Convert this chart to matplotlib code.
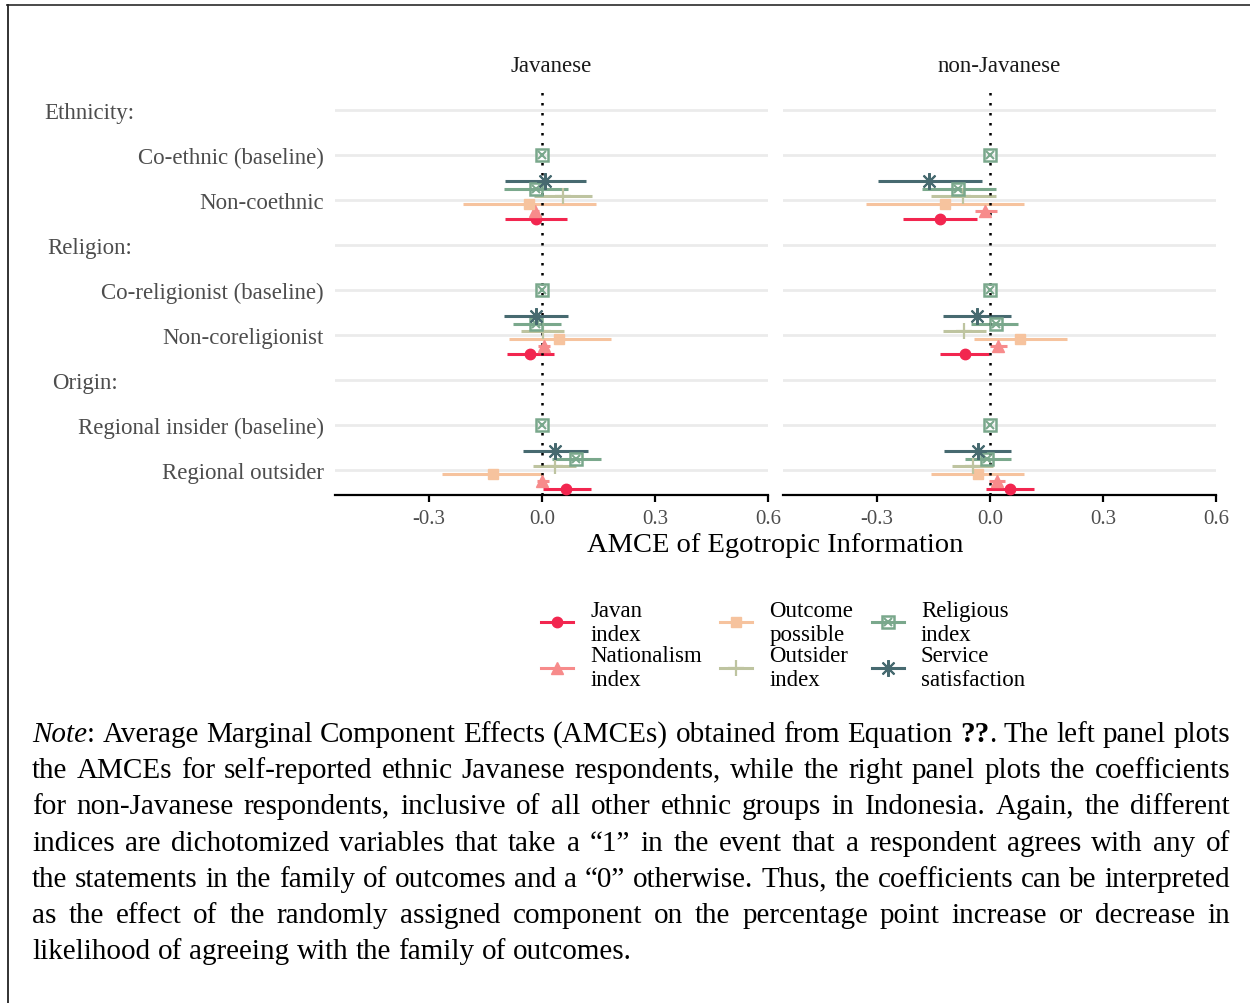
import re

import matplotlib
matplotlib.use("Agg")
import matplotlib.pyplot as plt
import matplotlib.transforms as mtransforms
from matplotlib.lines import Line2D

W, H = 1250, 1004
SERIF = ["Liberation Serif", "DejaVu Serif"]

PANELS = ["Javanese", "non-Javanese"]
SERIES = ["Javan index", "Nationalism index", "Outcome possible",
          "Outsider index", "Religious index", "Service satisfaction"]
LEGEND_LABELS = ["Javan\nindex", "Nationalism\nindex", "Outcome\npossible",
                 "Outsider\nindex", "Religious\nindex", "Service\nsatisfaction"]
COLORS = ["#F2264F", "#F78B8B", "#F6C39E", "#BEC4A0", "#7AA88C", "#476A70"]

ROW_LABELS = ["Ethnicity:", "Co-ethnic (baseline)", "Non-coethnic",
              "Religion:", "Co-religionist (baseline)", "Non-coreligionist",
              "Origin:", "Regional insider (baseline)", "Regional outsider"]
HEADER_ROWS = [0, 3, 6]
BASELINE_ROWS = [1, 4, 7]
EFFECT_ROWS = [2, 5, 8]
HEADER_X = [44, 47, 52]

# one row per series; columns: Non-coethnic, Non-coreligionist, Regional outsider
jav_est = [
    [-0.016, -0.032, 0.064],
    [-0.018, 0.004, 0.000],
    [-0.034, 0.046, -0.131],
    [0.055, 0.002, 0.033],
    [-0.016, -0.016, 0.089],
    [0.008, -0.016, 0.035],
]
jav_lo = [
    [-0.098, -0.092, 0.003],
    [-0.028, -0.012, -0.014],
    [-0.209, -0.088, -0.266],
    [-0.021, -0.057, -0.025],
    [-0.100, -0.078, 0.026],
    [-0.098, -0.101, -0.050],
]
jav_hi = [
    [0.066, 0.032, 0.129],
    [-0.008, 0.021, 0.019],
    [0.143, 0.182, 0.002],
    [0.132, 0.057, 0.090],
    [0.069, 0.050, 0.156],
    [0.117, 0.070, 0.123],
]
nonjav_est = [
    [-0.133, -0.066, 0.052],
    [-0.013, 0.020, 0.018],
    [-0.120, 0.080, -0.033],
    [-0.071, -0.068, -0.046],
    [-0.084, 0.016, -0.007],
    [-0.162, -0.034, -0.033],
]
nonjav_lo = [
    [-0.231, -0.132, -0.011],
    [-0.040, 0.000, -0.004],
    [-0.329, -0.043, -0.156],
    [-0.156, -0.124, -0.102],
    [-0.180, -0.051, -0.067],
    [-0.298, -0.124, -0.123],
]
nonjav_hi = [
    [-0.036, -0.002, 0.116],
    [0.018, 0.046, 0.040],
    [0.089, 0.204, 0.091],
    [0.015, -0.012, 0.009],
    [0.016, 0.074, 0.056],
    [-0.021, 0.056, 0.056],
]
BASELINE_EST = [0.0, 0.0, 0.0]

X_TICKS = [-0.3, 0.0, 0.3, 0.6]
X_TICK_LABELS = ["-0.3", "0.0", "0.3", "0.6"]

NOTE_LINES = [
    "*Note*: Average Marginal Component Effects (AMCEs) obtained from Equation **??**. The left panel plots",
    "the AMCEs for self-reported ethnic Javanese respondents, while the right panel plots the coefficients",
    "for non-Javanese respondents, inclusive of all other ethnic groups in Indonesia. Again, the different",
    "indices are dichotomized variables that take a \u201c1\u201d in the event that a respondent agrees with any of",
    "the statements in the family of outcomes and a \u201c0\u201d otherwise. Thus, the coefficients can be interpreted",
    "as the effect of the randomly assigned component on the percentage point increase or decrease in",
    "likelihood of agreeing with the family of outcomes.",
]

# series drawn bottom (Javan) to top (Service) inside each row
DODGE = [2.5 / 6, 1.5 / 6, 0.5 / 6, -0.5 / 6, -1.5 / 6, -2.5 / 6]

MARKERS = [
    dict(marker="o", ms=7.5),
    dict(marker="^", ms=8.5),
    dict(marker="s", ms=7.5),
    dict(marker="+", ms=12, mew=1.6),
    None,
    dict(marker=(8, 2, 0), ms=12, mew=1.5),
]


def draw_points(ax, x, y, i):
    c = COLORS[i]
    if MARKERS[i] is None:
        ax.plot(x, y, ls="none", marker="s", ms=8, mfc="none", mec=c, mew=1.8, zorder=4)
        ax.plot(x, y, ls="none", marker="x", ms=6, mec=c, mew=1.5, zorder=4)
    else:
        ax.plot(x, y, ls="none", color=c, mec=c, zorder=4, **MARKERS[i])


def legend_handle(i):
    c = COLORS[i]
    if MARKERS[i] is None:
        a = Line2D([], [], color=c, lw=2.2, marker="s", ms=8, mfc="none", mec=c, mew=1.8)
        b = Line2D([], [], ls="none", marker="x", ms=6, mec=c, mew=1.5)
        return (a, b)
    return Line2D([], [], color=c, lw=2.2, mec=c, **MARKERS[i])


def draw_panel(ax, title, est, lo, hi):
    for r in range(len(ROW_LABELS)):
        ax.axhline(r, color="#EBEBEB", lw=2, zorder=0)
    ax.axvline(0, color="black", lw=1.8, ls=(0, (1, 3)), zorder=3)
    for i in range(len(SERIES)):
        ys = [r + DODGE[i] for r in EFFECT_ROWS]
        ax.hlines(ys, lo[i], hi[i], color=COLORS[i], lw=2.2, zorder=2)
        draw_points(ax, est[i], ys, i)
    draw_points(ax, BASELINE_EST, BASELINE_ROWS, 4)

    ax.set_xlim(-0.55, 0.6)
    ax.set_ylim(8.556, -0.533)
    ax.set_xticks(X_TICKS)
    ax.set_xticklabels(X_TICK_LABELS)
    ax.set_yticks(range(len(ROW_LABELS)))
    for s in ["top", "left", "right"]:
        ax.spines[s].set_visible(False)
    ax.spines["bottom"].set_linewidth(1.6)
    ax.tick_params(axis="x", length=5, width=1.6, color="black", labelsize=15,
                   labelcolor="#4D4D4D", pad=5)
    ax.tick_params(axis="y", length=0, labelsize=16.5, labelcolor="#4D4D4D", pad=8)
    for lab in ax.get_xticklabels() + ax.get_yticklabels():
        lab.set_family(SERIF)
    ax.set_title(title, fontsize=16.5, color="#1A1A1A", family=SERIF, pad=11)


def segments(word):
    out = []
    for p in re.split(r"(\*\*[^*]+\*\*|\*[^*]+\*)", word):
        if not p:
            continue
        if p.startswith("**"):
            out.append((p[2:-2], "normal", "bold"))
        elif p.startswith("*"):
            out.append((p[1:-1], "italic", "normal"))
        else:
            out.append((p, "normal", "normal"))
    return out


def draw_note(fig, lines, x0, x1, y_first, step, size):
    r = fig.canvas.get_renderer()
    space = size * 100 / 72 * 0.25
    for k, line in enumerate(lines):
        words = []
        for w in line.split(" "):
            segs = []
            for txt, style, weight in segments(w):
                t = fig.text(0, 0, txt, fontsize=size, fontstyle=style,
                             fontweight=weight, family=SERIF, va="baseline", ha="left")
                segs.append((t, t.get_window_extent(r).width))
            words.append(segs)
        widths = [sum(s[1] for s in segs) for segs in words]
        if k == len(lines) - 1:
            gap = space
        else:
            gap = (x1 - x0 - sum(widths)) / (len(words) - 1)
        x = x0
        y = 1 - (y_first + k * step) / H
        for segs, wd in zip(words, widths):
            for t, sw in segs:
                t.set_position((x / W, y))
                x += sw
            x += gap


fig = plt.figure(figsize=(W / 100, H / 100), dpi=100)
ax_l = fig.add_axes([335 / W, 1 - 496 / H, 433 / W, 409 / H])
ax_r = fig.add_axes([783 / W, 1 - 496 / H, 433 / W, 409 / H])

draw_panel(ax_l, PANELS[0], jav_est, jav_lo, jav_hi)
draw_panel(ax_r, PANELS[1], nonjav_est, nonjav_lo, nonjav_hi)

ax_l.set_yticklabels(["" if r in HEADER_ROWS else lab for r, lab in enumerate(ROW_LABELS)])
ax_r.set_yticklabels([])
for lab in ax_l.get_yticklabels():
    lab.set_family(SERIF)

trans = mtransforms.blended_transform_factory(fig.transFigure, ax_l.transData)
for r, xp in zip(HEADER_ROWS, HEADER_X):
    ax_l.text(xp / W, r, ROW_LABELS[r], transform=trans, ha="left", va="center_baseline",
              fontsize=16.5, color="#4D4D4D", family=SERIF)

fig.text(775.5 / W, 1 - 552 / H, "AMCE of Egotropic Information", ha="center",
         va="baseline", fontsize=20.5, family=SERIF)

handles = [legend_handle(i) for i in range(len(SERIES))]
fig.legend(handles, LEGEND_LABELS, ncol=3, loc="center", bbox_to_anchor=(783 / W, 1 - 646 / H),
           frameon=False, prop={"family": SERIF, "size": 16.5}, handlelength=1.4,
           handletextpad=0.75, columnspacing=0.8, labelspacing=0.0, numpoints=1,
           borderpad=0)

draw_note(fig, NOTE_LINES, 32, 1230, 742, 36.2, 21)

fig.add_artist(Line2D([7 / W, 1], [1 - 5.5 / H, 1 - 5.5 / H], transform=fig.transFigure,
                      color="#3A3A3A", lw=1.3))
fig.add_artist(Line2D([7.5 / W, 7.5 / W], [0, 1 - 5.5 / H], transform=fig.transFigure,
                      color="#222222", lw=1.3))

fig.savefig("out.png", dpi=100, facecolor="white")
